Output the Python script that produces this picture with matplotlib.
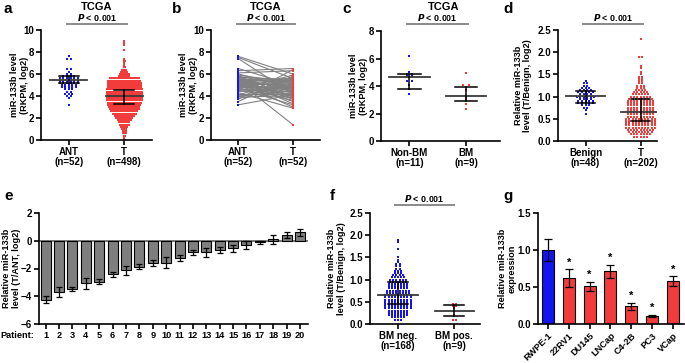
import numpy as np
import matplotlib
matplotlib.use('Agg')
from matplotlib import pyplot as plt

plt.rcParams['font.family'] = ['Liberation Sans', 'DejaVu Sans']
plt.rcParams['font.weight'] = 'bold'
plt.rcParams['axes.labelweight'] = 'bold'

BLUE = '#1414f0'
RED = '#f23c3c'

# ---- panel a: TCGA ANT vs T (value levels and point counts per level)
a_ant_levels = [3.2, 3.8, 4.0, 4.2, 4.4, 4.6, 4.8, 5.0, 5.2, 5.4, 5.6, 5.8, 6.0, 6.2, 6.5, 7.4, 7.6]
a_ant_counts = [1, 1, 2, 3, 2, 3, 5, 5, 6, 6, 6, 4, 2, 1, 2, 2, 1]
a_t_levels = [0.0, 0.2, 0.4, 0.6, 0.8, 1.0, 1.2, 1.4, 1.6, 1.8, 2.0, 2.2, 2.4,
              2.6, 2.8, 3.0, 3.2, 3.4, 3.6, 3.8, 4.0, 4.2, 4.4, 4.6, 4.8, 5.0, 5.2, 5.4, 5.6,
              5.8, 6.0, 6.2, 6.4, 6.6, 6.8, 7.0, 7.2, 7.4, 8.2, 8.6, 8.8, 9.0]
a_t_counts = [2, 1, 2, 3, 3, 4, 5, 7, 8, 10, 12, 14, 17,
              19, 21, 22, 23, 24, 25, 25, 25, 25, 25, 25, 24, 24, 24, 23, 21,
              8, 7, 5, 4, 2, 1, 1, 2, 1, 1, 1, 1, 1]
a_summary = {'ANT': (5.45, 5.15, 5.8), 'T': (4.0, 3.25, 4.55)}
a_labels = ['ANT\n(n=52)', 'T\n(n=498)']

# ---- panel b: paired ANT / T
b_ant = [7.6, 7.5, 7.4, 6.5, 6.3, 6.1, 6.0, 5.9, 5.8, 5.8, 5.7, 5.7, 5.6, 5.6, 5.5, 5.5,
         5.5, 5.4, 5.4, 5.4, 5.3, 5.3, 5.3, 5.2, 5.2, 5.2, 5.1, 5.1, 5.0, 5.0, 5.0, 4.9,
         4.9, 4.8, 4.8, 4.7, 4.6, 4.6, 4.5, 4.4, 4.3, 4.2, 4.1, 4.0, 4.0, 3.9, 3.8, 3.7,
         3.5, 3.2, 5.3, 4.6]
b_t = [6.0, 5.6, 4.2, 5.0, 6.5, 6.3, 4.8, 5.2, 4.9, 3.9, 5.5, 4.4, 5.1, 3.7, 5.4, 4.6,
       3.3, 5.3, 4.7, 4.0, 1.4, 5.6, 3.5, 4.9, 4.3, 3.0, 5.0, 4.5, 3.8, 5.2, 4.1, 4.6,
       3.6, 4.8, 5.7, 3.2, 4.4, 5.9, 4.0, 4.7, 2.9, 4.2, 5.5, 3.9, 4.5, 5.1, 4.3, 6.4,
       5.8, 4.1, 4.8, 4.2]
b_labels = ['ANT\n(n=52)', 'T\n(n=52)']

# ---- panel c: TCGA Non-BM vs BM
c_nonbm_levels = [3.4, 3.8, 4.05, 4.4, 4.7, 4.9, 5.0, 6.2]
c_nonbm_counts = [1, 1, 1, 2, 2, 2, 1, 1]
c_bm_levels = [2.35, 2.7, 2.95, 3.1, 3.3, 3.7, 4.05, 4.95]
c_bm_counts = [1, 1, 1, 1, 1, 1, 2, 1]
c_summary = {'Non-BM': (4.65, 3.8, 4.9), 'BM': (3.3, 2.9, 3.93)}
c_labels = ['Non-BM\n(n=11)', 'BM\n(n=9)']

# ---- panel d: Benign vs T
d_ben_levels = [0.6, 0.7, 0.75, 0.8, 0.85, 0.9, 0.95, 1.0, 1.05, 1.1, 1.15, 1.2, 1.25, 1.3, 1.35]
d_ben_counts = [1, 1, 2, 3, 5, 5, 4, 6, 4, 5, 4, 3, 2, 2, 1]
d_t_levels = [0.1, 0.15, 0.2, 0.25, 0.3, 0.35, 0.4, 0.45, 0.5, 0.55, 0.6, 0.65, 0.7, 0.75,
              0.8, 0.85, 0.9, 0.95, 1.0, 1.05, 1.1, 1.15, 1.2, 1.25, 1.3, 1.35, 1.4, 1.45,
              1.5, 1.55, 1.65, 1.7, 1.9, 2.3]
d_t_counts = [5, 7, 8, 9, 10, 10, 10, 10, 10, 9, 9, 9, 9, 9,
              9, 9, 9, 8, 7, 6, 5, 4, 3, 3, 2, 2, 2, 2,
              1, 1, 1, 1, 2, 1]
d_summary = {'Benign': (1.01, 0.86, 1.13), 'T': (0.65, 0.45, 0.95)}
d_labels = ['Benign\n(n=48)', 'T\n(n=202)']

# ---- panel e: per-patient T/ANT
e_patients = list(range(1, 21))
e_values = [-4.26, -3.69, -3.45, -3.06, -2.94, -2.43, -2.14, -1.86, -1.61, -1.57,
            -1.25, -0.84, -0.84, -0.67, -0.53, -0.31, -0.12, 0.1, 0.41, 0.6]
e_errors = [0.25, 0.35, 0.15, 0.4, 0.17, 0.17, 0.35, 0.17, 0.22, 0.4,
            0.2, 0.17, 0.35, 0.2, 0.25, 0.3, 0.1, 0.35, 0.2, 0.25]

# ---- panel f: BM neg vs BM pos
f_neg_levels = [0.1, 0.15, 0.2, 0.25, 0.3, 0.35, 0.4, 0.45, 0.5, 0.55, 0.6, 0.65, 0.7, 0.75,
                0.8, 0.85, 0.9, 0.95, 1.0, 1.05, 1.1, 1.15, 1.2, 1.25, 1.3, 1.35, 1.4, 1.45,
                1.5, 1.7, 1.85, 1.9]
f_neg_counts = [3, 5, 7, 7, 7, 9, 9, 9, 9, 9, 9, 9, 8, 8,
                7, 7, 7, 6, 6, 5, 4, 3, 3, 2, 2, 2, 1, 1,
                1, 1, 1, 1]
f_pos_levels = [0.1, 0.2, 0.3, 0.35, 0.4, 0.45]
f_pos_counts = [2, 1, 1, 1, 2, 2]
f_summary = {'neg': (0.65, 0.44, 0.94), 'pos': (0.3, 0.17, 0.42)}
f_labels = ['BM neg.\n(n=168)', 'BM pos.\n(n=9)']

# ---- panel g: cell lines
g_cells = ['RWPE-1', '22RV1', 'DU145', 'LNCap', 'C4-2B', 'PC3', 'VCap']
g_values = [1.0, 0.62, 0.51, 0.71, 0.24, 0.11, 0.58]
g_errors = [0.15, 0.12, 0.06, 0.09, 0.05, 0.015, 0.07]

W, H = 685, 363
fig = plt.figure(figsize=(W / 100, H / 100), dpi=100)


def add_ax(left, right, top, bottom):
    return fig.add_axes([left / W, 1 - bottom / H, (right - left) / W, (bottom - top) / H])


def style(ax):
    for s in ('top', 'right'):
        ax.spines[s].set_visible(False)
    for s in ('left', 'bottom'):
        ax.spines[s].set_linewidth(1.2)
    ax.tick_params(width=1.2, length=3.5, labelsize=7, pad=1.5)


def swarm(ax, levels, counts, center, dx, color, ms=2.6):
    xs, ys = [], []
    for v, k in zip(levels, counts):
        offs = (np.arange(k) - (k - 1) / 2) * dx
        xs.extend(center + offs)
        ys.extend([v] * k)
    ax.scatter(xs, ys, s=ms, marker='s', color=color, linewidths=0, clip_on=False, zorder=2)


def summary(ax, x, stats, half_mean=0.33, half_cap=0.18):
    m, lo, hi = stats
    ax.plot([x - half_mean, x + half_mean], [m, m], color='#3a3a3a', lw=1.3, zorder=3)
    ax.plot([x, x], [lo, hi], color='black', lw=1.1, zorder=3)
    for v in (lo, hi):
        ax.plot([x - half_cap, x + half_cap], [v, v], color='black', lw=1.1, zorder=3)


def cat_ticks(ax, labels):
    ax.set_xticks([1, 2])
    ax.set_xticklabels(labels, fontsize=7)
    for t in ax.get_xticklabels():
        t.set_linespacing(1.05)


def pbar(ax, x0, x1, y, ytext):
    ax.plot([x0, x1], [y, y], color='#8a8a8a', lw=1.4, clip_on=False)
    ax.text((x0 + x1) / 2, ytext, r'$\bfit{P}$ < 0.001', ha='center', va='bottom',
            fontsize=6.4, clip_on=False)


def ylab(ax, text, xpos):
    ax.set_ylabel(text, fontsize=6.6, linespacing=1.1)
    ax.yaxis.set_label_coords(xpos, 0.5)


# panel a
ax = add_ax(41, 152, 30, 140)
style(ax)
swarm(ax, a_ant_levels, a_ant_counts, 1, 0.065, BLUE)
swarm(ax, a_t_levels, a_t_counts, 2, 0.026, RED, ms=1.9)
summary(ax, 1, a_summary['ANT'])
summary(ax, 2, a_summary['T'])
ax.set_xlim(0.5, 2.5)
ax.set_ylim(0, 10)
ax.set_yticks(range(0, 11, 2))
cat_ticks(ax, a_labels)
pbar(ax, 0.97, 2.05, 10.55, 10.62)
ylab(ax, 'miR-133b level\n(RKPM, log2)', -0.11)

# panel b
ax = add_ax(211, 320, 30, 140)
style(ax)
for v0, v1 in zip(b_ant, b_t):
    ax.plot([1, 2], [v0, v1], color='#808080', lw=0.8, zorder=1)
ax.scatter([1] * len(b_ant), b_ant, s=3, marker='s', color=BLUE, linewidths=0, zorder=2)
ax.scatter([2] * len(b_t), b_t, s=3, marker='s', color=RED, linewidths=0, zorder=2)
ax.set_xlim(0.5, 2.5)
ax.set_ylim(0, 10)
ax.set_yticks(range(0, 11, 2))
cat_ticks(ax, b_labels)
pbar(ax, 0.97, 2.05, 10.55, 10.62)
ylab(ax, 'miR-133b level\n(RKPM, log2)', -0.12)

# panel c
ax = add_ax(381, 500, 31, 141)
style(ax)
swarm(ax, c_nonbm_levels, c_nonbm_counts, 1, 0.1, BLUE, ms=4)
swarm(ax, c_bm_levels, c_bm_counts, 2, 0.1, RED, ms=4)
summary(ax, 1, c_summary['Non-BM'], 0.36, 0.2)
summary(ax, 2, c_summary['BM'], 0.36, 0.2)
ax.set_xlim(0.5, 2.6)
ax.set_ylim(0, 8)
ax.set_yticks(range(0, 9, 2))
cat_ticks(ax, c_labels)
pbar(ax, 0.96, 2.03, 8.5, 8.56)
ylab(ax, 'miR-133b level\n(RKPM, log2)', -0.11)

# panel d
ax = add_ax(558, 657, 30, 141)
style(ax)
swarm(ax, d_ben_levels, d_ben_counts, 1, 0.065, BLUE)
swarm(ax, d_t_levels, d_t_counts, 2, 0.058, RED)
summary(ax, 1, d_summary['Benign'], 0.35, 0.18)
summary(ax, 2, d_summary['T'], 0.35, 0.18)
ax.set_xlim(0.5, 2.3)
ax.set_ylim(0, 2.5)
ax.set_yticks(np.arange(0, 2.51, 0.5))
ax.set_yticklabels(['%.1f' % v for v in np.arange(0, 2.51, 0.5)])
cat_ticks(ax, d_labels)
pbar(ax, 0.95, 2.05, 2.64, 2.66)
ylab(ax, 'Relative miR-133b\nlevel (T/Benign, log2)', -0.26)

# panel e
ax = add_ax(39, 308, 213, 324)
style(ax)
ax.bar(e_patients, e_values, width=0.75, color='#7f7f7f', edgecolor='black', lw=0.8, zorder=2)
ax.errorbar(e_patients, e_values, yerr=e_errors, fmt='none', ecolor='black',
            elinewidth=0.9, capsize=2.4, capthick=0.9, zorder=3)
ax.axhline(0, color='#555555', lw=1.1, zorder=1)
ax.set_xlim(0.5, 20.6)
ax.set_ylim(-6, 2)
ax.set_yticks(range(-6, 3, 2))
ax.set_xticks(e_patients)
ax.tick_params(axis='x', labelsize=6.6)
ylab(ax, 'Relative miR-133b\nlevel (T/ANT, log2)', -0.067)

# panel f
ax = add_ax(370, 480, 213, 324)
style(ax)
swarm(ax, f_neg_levels, f_neg_counts, 1, 0.056, BLUE)
swarm(ax, f_pos_levels, f_pos_counts, 2, 0.06, RED)
summary(ax, 1, f_summary['neg'], 0.35, 0.18)
summary(ax, 2, f_summary['pos'], 0.35, 0.18)
ax.set_xlim(0.5, 2.46)
ax.set_ylim(0, 2.5)
ax.set_yticks(np.arange(0, 2.51, 0.5))
ax.set_yticklabels(['%.1f' % v for v in np.arange(0, 2.51, 0.5)])
cat_ticks(ax, f_labels)
pbar(ax, 0.95, 2.0, 2.68, 2.70)
ylab(ax, 'Relative miR-133b\nlevel (T/Benign, log2)', -0.22)

# panel g
ax = add_ax(538, 684, 213, 324)
style(ax)
gx = np.arange(len(g_cells))
colors = [BLUE] + [RED] * (len(g_cells) - 1)
ax.bar(gx, g_values, width=0.58, color=colors, edgecolor='black', lw=0.8, zorder=2)
ax.errorbar(gx, g_values, yerr=g_errors, fmt='none', ecolor='black',
            elinewidth=0.9, capsize=3, capthick=0.9, zorder=3)
for x, v, e in zip(gx[1:], g_values[1:], g_errors[1:]):
    ax.text(x, v + e + 0.02, '*', ha='center', va='bottom', fontsize=8)
ax.set_xlim(-0.48, 6.54)
ax.set_ylim(0, 1.5)
ax.set_yticks([0, 0.5, 1.0, 1.5])
ax.set_yticklabels(['0.0', '0.5', '1.0', '1.5'])
ax.set_xticks(gx)
ax.set_xticklabels(g_cells, rotation=45, ha='right', rotation_mode='anchor', fontsize=6.6)
ylab(ax, 'Relative miR-133b\nexpression', -0.143)

# titles, letters and extra labels
for x in (97, 266, 444):
    fig.text(x / W, 1 - 7.5 / H, 'TCGA', ha='center', va='center', fontsize=8)
for letter, x, y in [('a', 4, 13), ('b', 172, 13), ('c', 342, 13), ('d', 503, 13),
                     ('e', 4, 200), ('f', 330, 200), ('g', 503, 200)]:
    fig.text(x / W, 1 - y / H, letter, ha='left', va='baseline', fontsize=11)
fig.text(17 / W, 1 - 335 / H, 'Patient:', ha='center', va='center', fontsize=6.6)

fig.savefig('out.png', dpi=100)
